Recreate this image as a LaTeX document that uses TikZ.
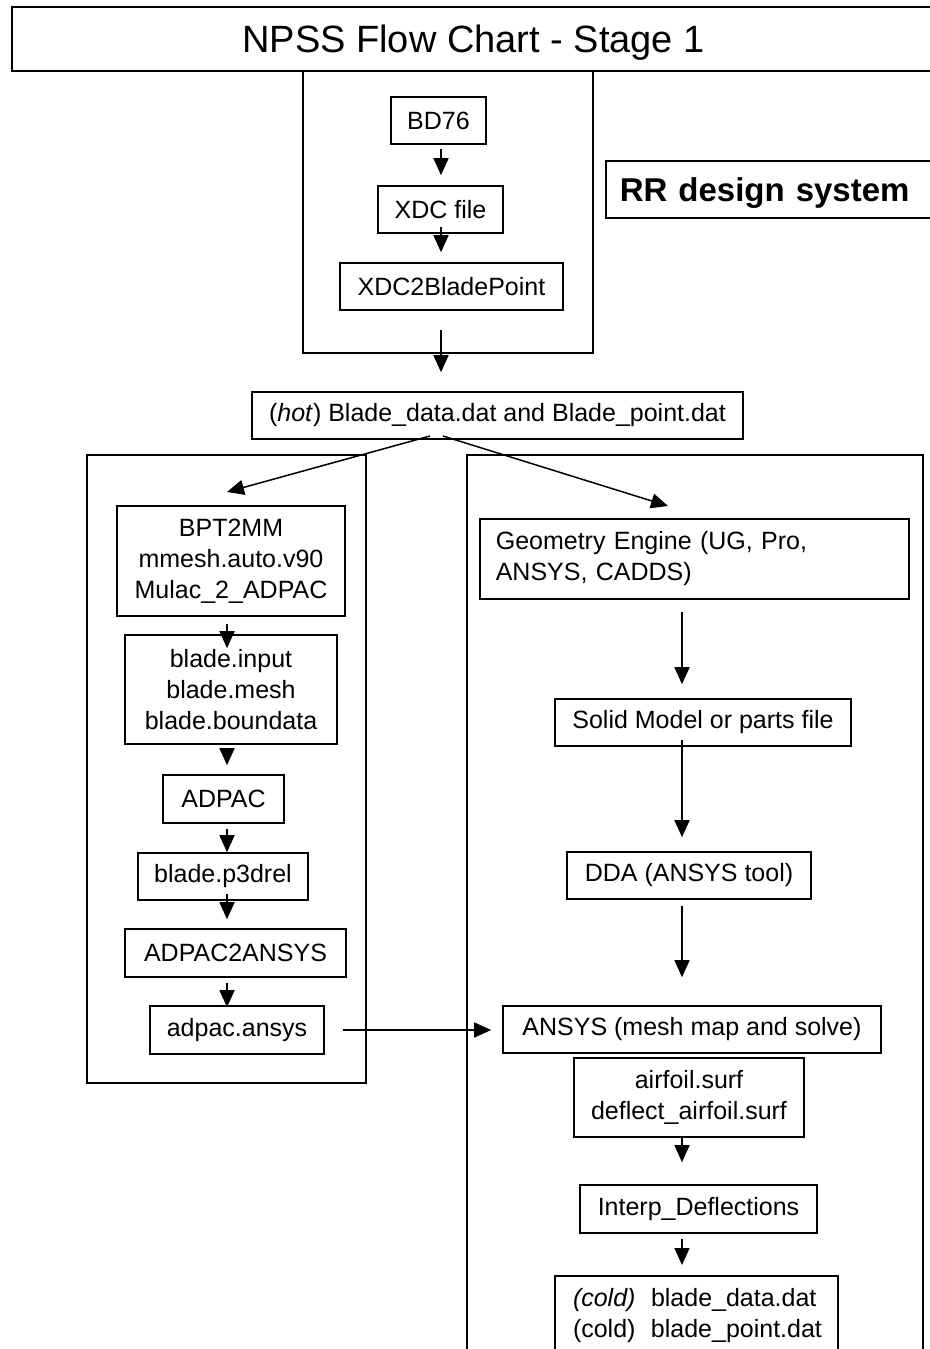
\documentclass[tikz,border=0pt]{standalone}
\usepackage{fontspec}
\setmainfont{Liberation Sans}
\usetikzlibrary{arrows.meta}

\tikzset{
  box/.style={draw, line width=1.6pt, inner sep=0pt, align=center,
    font=\fontsize{25}{31}\selectfont},
  frame/.style={draw, line width=1.6pt},
  arr/.style={line width=1.5pt, -{Triangle[length=17pt,width=15pt]}}
}

\begin{document}
\begin{tikzpicture}[x=1pt,y=-1pt]

    \useasboundingbox (0,0) rectangle (929,1349);

    %% Title and outer frames
    \node[box, minimum width=923, minimum height=64, text depth=0pt,
      font=\fontsize{38}{44}\selectfont] (title) at (473.5,39) {NPSS Flow Chart - Stage 1};
    \draw[frame] (303,71) rectangle (593,353);
    \draw[frame] (87,455) rectangle (366,1083);
    \draw[frame] (467,455) rectangle (923,1365);

    % RR design system label
    \node[box, anchor=west, text width=302, inner xsep=14, minimum height=57, align=left,
      text depth=0pt, font=\fontsize{33}{38}\selectfont\bfseries] (rrlabel) at (605,189.5)
      {RR design system};

    % Top column
    \node[box, minimum width=95, minimum height=47] (bd) at (438.5,120.5) {BD76};
    \node[box, minimum width=125, minimum height=47] (xdc) at (440.5,209.5) {XDC file};
    \node[box, minimum width=223, minimum height=47] (xdctwo) at (451.5,286.5) {XDC2BladePoint};
    \node[box, minimum width=491, minimum height=47] (hot) at (497.5,415.5)
      {(\textit{hot}) Blade\_data.dat and Blade\_point.dat};

    % Left column
    \node[box, minimum width=228, minimum height=110] (bpt) at (231,561)
      {BPT2MM\\mmesh.auto.v90\\Mulac\_2\_ADPAC};
    \node[box, minimum width=212, minimum height=109] (binput) at (231,689.5)
      {blade.input\\blade.mesh\\blade.boundata};
    \node[box, minimum width=121, minimum height=48] (adpac) at (223.5,799) {ADPAC};
    \node[box, minimum width=170, minimum height=47] (pthree) at (223,876.5) {blade.p3drel};
    \node[box, minimum width=221, minimum height=48] (atoa) at (235.5,953) {ADPAC2ANSYS};
    \node[box, minimum width=174, minimum height=48] (aans) at (237,1030) {adpac.ansys};

    % Right column
    \node[box, anchor=west, text width=397, inner xsep=16, minimum height=80, align=left] (geo)
      at (479,559) {Geometry Engine (UG, Pro,\\ANSYS, CADDS)};
    \node[box, minimum width=296, minimum height=47] (solid) at (703,722.5) {Solid Model or parts file};
    \node[box, minimum width=244, minimum height=47] (dda) at (689,875.5) {DDA (ANSYS tool)};
    \node[box, minimum width=378, minimum height=47] (ansys) at (692,1029.5) {ANSYS (mesh map and solve)};
    \node[box, minimum width=230, minimum height=79] (airfoil) at (689,1097.5)
      {airfoil.surf\\deflect\_airfoil.surf};
    \node[box, minimum width=237, minimum height=48] (interp) at (698.5,1209) {Interp\_Deflections};
    \node[box, anchor=north, text width=247, inner xsep=18, inner ysep=13, align=left] (cold)
      at (696.5,1275) {\makebox[78pt][l]{\textit{(cold)}}blade\_data.dat\\
      \makebox[78pt][l]{(cold)}blade\_point.dat};

    % Arrow columns and free ends
    \coordinate (tcol) at (441,0);
    \coordinate (lcol) at (227,0);
    \coordinate (rcol) at (682,0);
    \coordinate (hotl) at (430,436);
    \coordinate (hotr) at (443,436);
    \coordinate (tipl) at (227,492);
    \coordinate (tipr) at (668,506);

    % Top arrows
    \draw[arr, shorten <=4, shorten >=10] (bd.south -| tcol) -- (xdc.north -| tcol);
    \draw[arr, shorten <=-7, shorten >=10] (xdc.south -| tcol) -- (xdctwo.north -| tcol);
    \draw[arr, shorten <=19, shorten >=19] (xdctwo.south -| tcol) -- (hot.north -| tcol);

    % Split
    \draw[arr] (hotl) -- (tipl);
    \draw[arr] (hotr) -- (tipr);

    % Left arrows
    \draw[arr, shorten <=7, shorten >=-14] (bpt.south -| lcol) -- (binput.north -| lcol);
    \draw[arr, shorten <=4, shorten >=9] (binput.south -| lcol) -- (adpac.north -| lcol);
    \draw[arr, shorten <=5] (adpac.south -| lcol) -- (pthree.north -| lcol);
    \draw[arr, shorten <=-7, shorten >=9] (pthree.south -| lcol) -- (atoa.north -| lcol);
    \draw[arr, shorten <=5, shorten >=-2] (atoa.south -| lcol) -- (aans.north -| lcol);

    % Across
    \draw[arr, shorten <=18, shorten >=11] (aans.east) -- (aans.east -| ansys.west);

    % Right arrows
    \draw[arr, shorten <=12, shorten >=14] (geo.south -| rcol) -- (solid.north -| rcol);
    \draw[arr, shorten <=-7, shorten >=14] (solid.south -| rcol) -- (dda.north -| rcol);
    \draw[arr, shorten <=6, shorten >=28] (dda.south -| rcol) -- (ansys.north -| rcol);
    \draw[arr, shorten >=22] (airfoil.south -| rcol) -- (interp.north -| rcol);
    \draw[arr, shorten <=5, shorten >=10] (interp.south -| rcol) -- (cold.north -| rcol);

\end{tikzpicture}
\end{document}
